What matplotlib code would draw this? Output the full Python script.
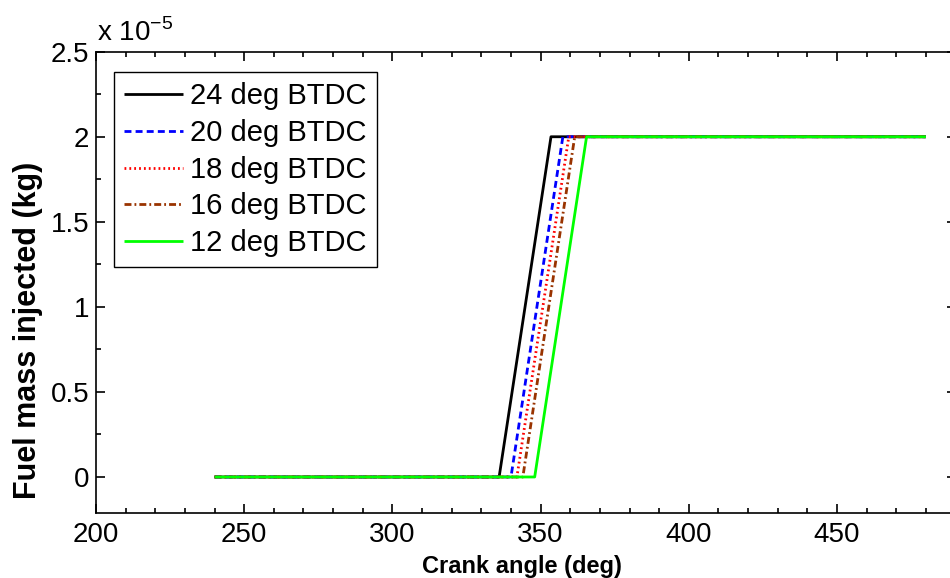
import numpy as np
import matplotlib.pyplot as plt
from matplotlib.ticker import MultipleLocator

plt.rcParams['font.family'] = ['Liberation Sans', 'DejaVu Sans']
plt.rcParams['lines.scale_dashes'] = False

### Injection profiles (crank angle in deg, mass in kg)
labels = ['24 deg BTDC', '20 deg BTDC', '18 deg BTDC', '16 deg BTDC', '12 deg BTDC']
angle_24 = [240, 336, 353.5, 480]
angle_20 = [240, 340, 357.5, 480]
angle_18 = [240, 342, 359.5, 480]
angle_16 = [240, 344, 361.5, 480]
angle_12 = [240, 348, 365.5, 480]
mass = [0, 0, 2e-5, 2e-5]

yticks = [0, 0.5e-5, 1e-5, 1.5e-5, 2e-5, 2.5e-5]
ytick_labels = ['0', '0.5', '1', '1.5', '2', '2.5']
xticks = [200, 250, 300, 350, 400, 450]

angles = [angle_24, angle_20, angle_18, angle_16, angle_12]
colors = ['#000000', '#0000FF', '#FF0000', '#993300', '#00FF00']
styles = [(0, ()), (0, (5, 3)), (0, (1.3, 2.2)), (0, (5, 2.2, 1.3, 2.2)), (0, ())]

fig = plt.figure(figsize=(9.5, 5.78), dpi=100)
W, H = 950, 578
# axes box in pixels: left 96, right ~956 (past the edge), top 52, bottom 513
ax = fig.add_axes([96 / W, (H - 512.7) / H, 859.6 / W, 461 / H])

for x, c, ls, lab in zip(angles, colors, styles, labels):
    ax.plot(x, mass, color=c, linestyle=ls, linewidth=2, label=lab)

ax.set_xlim(200, 490)
ax.set_ylim(-0.21e-5, 2.5e-5)
ax.set_xticks(xticks)
ax.set_yticks(yticks)
ax.set_yticklabels(ytick_labels)
ax.xaxis.set_minor_locator(MultipleLocator(10))
ax.yaxis.set_minor_locator(MultipleLocator(0.25e-5))

ax.tick_params(which='both', direction='in', top=True, right=True,
               labelsize=20, width=1.2)
ax.tick_params(axis='x', pad=7)
ax.tick_params(axis='y', pad=5)
ax.tick_params(which='major', length=6.5)
ax.tick_params(which='minor', length=3.6)
for sp in ax.spines.values():
    sp.set_linewidth(1.2)

ax.set_xlabel('Crank angle (deg)', fontsize=17, fontweight='bold', va='top')
ax.xaxis.set_label_coords(0.496, -0.092)
ax.set_ylabel('Fuel mass injected (kg)', fontsize=22, fontweight='bold')
ax.yaxis.set_label_coords(-0.0617, 0.396)

fig.text(97 / W, 1 - 41 / H, r'x 10$^{\mathregular{-5}}$', fontsize=20,
         va='baseline', ha='left')

leg = ax.legend(loc='upper left', bbox_to_anchor=(18 / 859.6, (512.7 - 72) / 461),
                borderaxespad=0, fontsize=21, handlelength=2.0, handletextpad=0.27,
                labelspacing=0.3, borderpad=0.35, fancybox=False, framealpha=1,
                edgecolor='black')
leg.get_frame().set_linewidth(1.0)

fig.savefig('out.png', dpi=100)
